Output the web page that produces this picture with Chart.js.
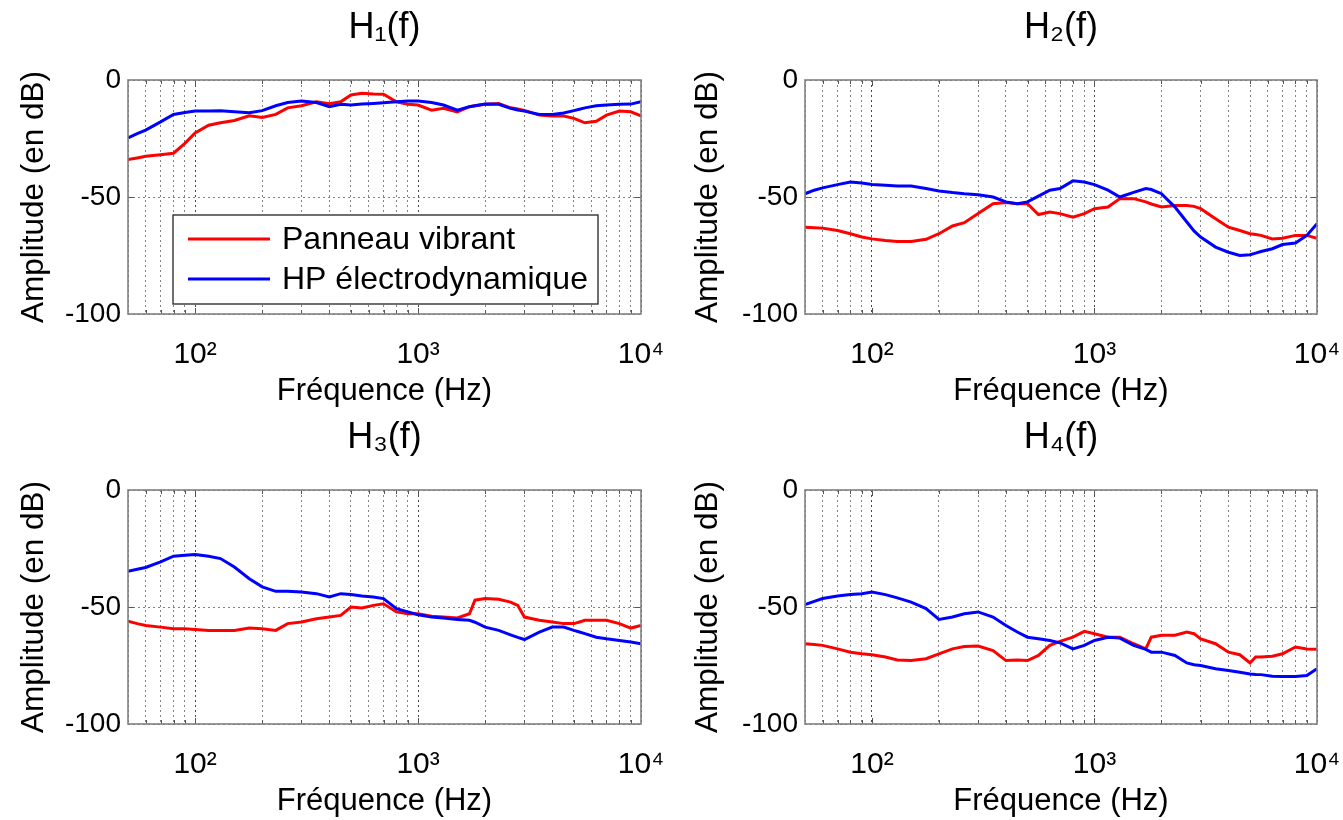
<!DOCTYPE html>
<html>
<head>
<meta charset="utf-8">
<script src="https://cdn.jsdelivr.net/npm/chart.js@4.4.1/dist/chart.umd.min.js"></script>
<style>
html, body { margin: 0; padding: 0; background: #ffffff; }
body { width: 1343px; height: 820px; position: relative; overflow: hidden; }
canvas { position: absolute; display: block; }
</style>
</head>
<body>
<canvas id="c1" width="671" height="410" style="left:0px;top:0px"></canvas>
<canvas id="c2" width="672" height="410" style="left:671px;top:0px"></canvas>
<canvas id="c3" width="671" height="410" style="left:0px;top:410px"></canvas>
<canvas id="c4" width="672" height="410" style="left:671px;top:410px"></canvas>
<script>
// ---------------- DATA ----------------
const frequencies = [50, 55, 60, 70, 80, 90, 100, 115, 130, 150, 175, 200, 230, 260, 300, 350, 400, 450, 500, 560, 630, 700, 800, 900, 1000, 1150, 1300, 1500, 1700, 1800, 2000, 2300, 2600, 2800, 3000, 3500, 4000, 4500, 5000, 5300, 5600, 6300, 7000, 8000, 9000, 10000];

const seriesLabels = ['Panneau vibrant', 'HP électrodynamique'];

const h1Panneau = [-34, -33.3, -32.6, -31.9, -31.3, -27.1, -22.6, -19.3, -18.3, -17.3, -15.3, -16, -14.7, -11.9, -11, -9.3, -10.1, -9.3, -6.4, -5.7, -6, -6.1, -9.3, -10.4, -10.7, -12.9, -12.1, -13.6, -11.4, -11, -10.4, -10, -11.9, -12.4, -13, -15, -15.4, -15.4, -16.4, -17.4, -18.3, -17.6, -15, -13.3, -13.6, -15.3];
const h1HP = [-24.7, -22.9, -21.4, -17.9, -14.7, -13.9, -13.3, -13.3, -13.1, -13.6, -14, -13.1, -11, -9.6, -9, -9.6, -11.4, -10.4, -10.7, -10.3, -10, -9.7, -9.3, -9, -9, -9.6, -10.7, -12.9, -11.4, -11, -10.3, -10.4, -12.1, -12.8, -13.3, -14.7, -14.7, -14.1, -13.1, -12.5, -11.9, -11, -10.7, -10.4, -10.3, -9.3];

const h2Panneau = [-62.9, -63.1, -63.3, -64.3, -65.7, -67.1, -67.9, -68.6, -69, -69, -68.1, -65.7, -62.4, -61, -57.1, -52.9, -52.4, -52.9, -52.9, -57.5, -56.4, -57.1, -58.6, -57.1, -55, -54.3, -50.7, -50.7, -52.1, -53, -54.3, -53.6, -53.6, -54, -55, -59.3, -62.9, -64.3, -65.7, -66, -66.4, -67.9, -67.6, -66.4, -66.4, -67.6];
const h2HP = [-48.6, -47.1, -46.1, -44.7, -43.6, -44, -44.7, -45, -45.3, -45.3, -46.4, -47.4, -48.1, -48.6, -49, -50, -52.1, -52.9, -52.1, -49.6, -47.1, -46.4, -43.1, -43.6, -44.7, -47.1, -50, -48, -46.4, -46.8, -48.6, -54.3, -60.7, -64.5, -67.1, -71.4, -73.6, -75, -74.7, -74, -73.3, -72.1, -70.3, -69.7, -66.4, -61.4];

const h3Panneau = [-56.1, -57.1, -57.9, -58.6, -59.3, -59.3, -59.6, -60, -60, -60, -59, -59.3, -60, -57.1, -56.4, -55, -54.3, -53.6, -50, -50.4, -49.3, -48.6, -52.1, -52.9, -52.9, -53.9, -54.3, -54.7, -52.9, -47.1, -46.4, -46.7, -47.9, -49.3, -54.3, -55.7, -56.4, -57.1, -57.1, -56.4, -55.7, -55.7, -55.7, -57.1, -59, -57.9];
const h3HP = [-34.7, -33.9, -33.1, -30.7, -28.3, -27.9, -27.6, -28.3, -29.3, -32.9, -37.9, -41.4, -43.3, -43.3, -43.6, -44.3, -45.7, -44.3, -44.7, -45.3, -45.7, -46.4, -50.7, -52.1, -53.3, -54.3, -54.7, -55.3, -55.7, -56.5, -58.6, -60, -61.9, -63, -63.9, -60.7, -58.6, -58.6, -60, -60.7, -61.4, -62.9, -63.6, -64.3, -65, -65.7];

const h4Panneau = [-65.7, -66, -66.4, -67.9, -69.3, -70, -70.4, -71.4, -72.6, -72.9, -72.1, -70, -67.9, -66.9, -66.7, -68.6, -72.9, -72.6, -72.9, -70.7, -66.4, -64.7, -62.9, -60.4, -61.4, -62.9, -62.9, -65.7, -67.9, -62.9, -62.1, -62.1, -60.7, -61.4, -63.6, -65.7, -69.3, -70.4, -73.9, -71.4, -71.4, -71, -70, -67.1, -67.9, -68.1];
const h4HP = [-49, -47.6, -46.4, -45.3, -44.7, -44.3, -43.6, -44.7, -46.1, -47.9, -50.7, -55.3, -54.3, -52.9, -52.1, -54.3, -57.9, -60.7, -62.9, -63.6, -64.3, -65.3, -67.9, -66.4, -64.3, -62.9, -63.3, -66.4, -68.1, -69.3, -69.3, -70.7, -73.9, -74.7, -75, -76.4, -77.1, -77.9, -78.6, -78.8, -78.9, -79.6, -79.7, -79.7, -79.3, -76.4];

const panelTitles = ['H\u2081(f)', 'H\u2082(f)', 'H\u2083(f)', 'H\u2084(f)'];
const xAxisTitle = 'Fréquence (Hz)';
const yAxisTitle = 'Amplitude (en dB)';
const yTickValues = [-100, -50, 0];
const xTickValues = [100, 1000, 10000];
const xTickLabels = ['10\u00B2', '10\u00B3', '10\u2074'];
const xGridValues = [50, 60, 70, 80, 90, 100, 200, 300, 400, 500, 600, 700, 800, 900, 1000, 2000, 3000, 4000, 5000, 6000, 7000, 8000, 9000, 10000];

// ---------------- STYLE ----------------
const FONT = "'Liberation Sans', Arial, Helvetica, sans-serif";
Chart.defaults.font.family = FONT;
Chart.defaults.color = '#000000';
const RED = '#ff0000';
const BLUE = '#0000ff';

// frame, inner tick marks and in-axes legend
const framePlugin = {
  id: 'matFrame',
  afterDatasetsDraw(chart) {
    const ctx = chart.ctx;
    const a = chart.chartArea;
    const xs = chart.scales.x, ys = chart.scales.y;
    ctx.save();
    ctx.strokeStyle = '#555555';
    ctx.lineWidth = 1;
    xGridValues.forEach(v => {
      const px = Math.round(xs.getPixelForValue(v)) + 0.5;
      if (px <= a.left + 1 || px >= a.right - 1) return;
      const len = xTickValues.includes(v) ? 6 : 4;
      ctx.beginPath();
      ctx.moveTo(px, a.top); ctx.lineTo(px, a.top + len);
      ctx.moveTo(px, a.bottom); ctx.lineTo(px, a.bottom - len);
      ctx.stroke();
    });
    yTickValues.forEach(v => {
      const py = Math.round(ys.getPixelForValue(v)) + 0.5;
      if (py <= a.top + 1 || py >= a.bottom - 1) return;
      ctx.beginPath();
      ctx.moveTo(a.left, py); ctx.lineTo(a.left + 6, py);
      ctx.moveTo(a.right, py); ctx.lineTo(a.right - 6, py);
      ctx.stroke();
    });
    ctx.strokeStyle = '#808080';
    ctx.lineWidth = 1.6;
    ctx.strokeRect(a.left, a.top, a.right - a.left, a.bottom - a.top);
    ctx.restore();
  },
  afterDraw(chart, args, opts) {
    if (!opts || !opts.display) return;
    const ctx = chart.ctx;
    const a = chart.chartArea;
    const bx = a.left + opts.left, by = a.top + opts.top;
    ctx.save();
    ctx.fillStyle = '#ffffff';
    ctx.fillRect(bx, by, opts.width, opts.height);
    ctx.strokeStyle = '#333333';
    ctx.lineWidth = 1.4;
    ctx.strokeRect(bx, by, opts.width, opts.height);
    ctx.font = opts.fontSize + 'px ' + FONT;
    ctx.textBaseline = 'middle';
    ctx.textAlign = 'left';
    chart.data.datasets.forEach((ds, i) => {
      const yy = by + opts.firstRow + i * opts.rowGap;
      ctx.strokeStyle = ds.borderColor;
      ctx.lineWidth = 3;
      ctx.beginPath();
      ctx.moveTo(bx + opts.lineStart, yy);
      ctx.lineTo(bx + opts.lineEnd, yy);
      ctx.stroke();
      ctx.fillStyle = '#000000';
      ctx.fillText(ds.label, bx + opts.textStart, yy + 1);
    });
    ctx.restore();
  }
};

function makePanel(id, title, red, blue, plotLeft, rightPad, yTitlePad, showLegend) {
  const gridColor = (ctx) => {
    const v = ctx.tick && ctx.tick.value;
    return xTickValues.includes(v) ? 'rgba(40,40,40,0.85)' : 'rgba(90,90,90,0.75)';
  };
  return new Chart(document.getElementById(id), {
    type: 'line',
    data: {
      datasets: [
        { label: seriesLabels[0], data: frequencies.map((f, i) => ({ x: f, y: red[i] })),
          borderColor: RED, backgroundColor: RED, borderWidth: 3, pointRadius: 0, tension: 0, order: 1 },
        { label: seriesLabels[1], data: frequencies.map((f, i) => ({ x: f, y: blue[i] })),
          borderColor: BLUE, backgroundColor: BLUE, borderWidth: 3, pointRadius: 0, tension: 0, order: 0 }
      ]
    },
    options: {
      responsive: false,
      animation: false,
      events: [],
      layout: { padding: { left: 0, right: rightPad, top: 0, bottom: 0 } },
      plugins: {
        legend: { display: false },
        tooltip: { enabled: false },
        title: {
          display: true, text: title, fullSize: false, color: '#000000',
          font: { size: 36, weight: 'normal', lineHeight: 1.2 },
          padding: { top: 6, bottom: 30.8 }
        },
        matFrame: {
          display: showLegend, left: 45, top: 135, width: 425, height: 89,
          lineStart: 15, lineEnd: 97, textStart: 109, firstRow: 24, rowGap: 40, fontSize: 32
        }
      },
      scales: {
        x: {
          type: 'logarithmic', min: 50, max: 10000,
          afterBuildTicks: (s) => { s.ticks = xGridValues.map(v => ({ value: v })); },
          afterFit: (s) => { s.height = 96; s.paddingLeft = 0; s.paddingRight = 0; },
          ticks: {
            autoSkip: false, maxRotation: 0, minRotation: 0, padding: 23, color: '#000000',
            font: { size: 30 },
            callback: (v) => { const i = xTickValues.indexOf(v); return i >= 0 ? xTickLabels[i] : ''; }
          },
          grid: { drawTicks: false, color: gridColor, lineWidth: 1 },
          border: { display: false, dash: [2, 3] },
          title: { display: true, text: xAxisTitle, color: '#000000', font: { size: 31 }, padding: { top: 0, bottom: 0 } }
        },
        y: {
          type: 'linear', min: -100, max: 0,
          afterBuildTicks: (s) => { s.ticks = yTickValues.map(v => ({ value: v })); },
          afterFit: (s) => { s.width = plotLeft; s.paddingTop = 0; s.paddingBottom = 0; },
          ticks: { padding: 7, color: '#000000', font: { size: 28 }, callback: (v) => String(v) },
          grid: { drawTicks: false, color: 'rgba(90,90,90,0.75)', lineWidth: 1 },
          border: { display: false, dash: [2, 3] },
          title: { display: true, text: yAxisTitle, color: '#000000', font: { size: 31.5 }, padding: { top: yTitlePad, bottom: 0 } }
        }
      }
    },
    plugins: [framePlugin]
  });
}

makePanel('c1', panelTitles[0], h1Panneau, h1HP, 128, 30, 15, true);
makePanel('c2', panelTitles[1], h2Panneau, h2HP, 134, 26, 18, false);
makePanel('c3', panelTitles[2], h3Panneau, h3HP, 128, 30, 15, false);
makePanel('c4', panelTitles[3], h4Panneau, h4HP, 134, 26, 18, false);
</script>
</body>
</html>
